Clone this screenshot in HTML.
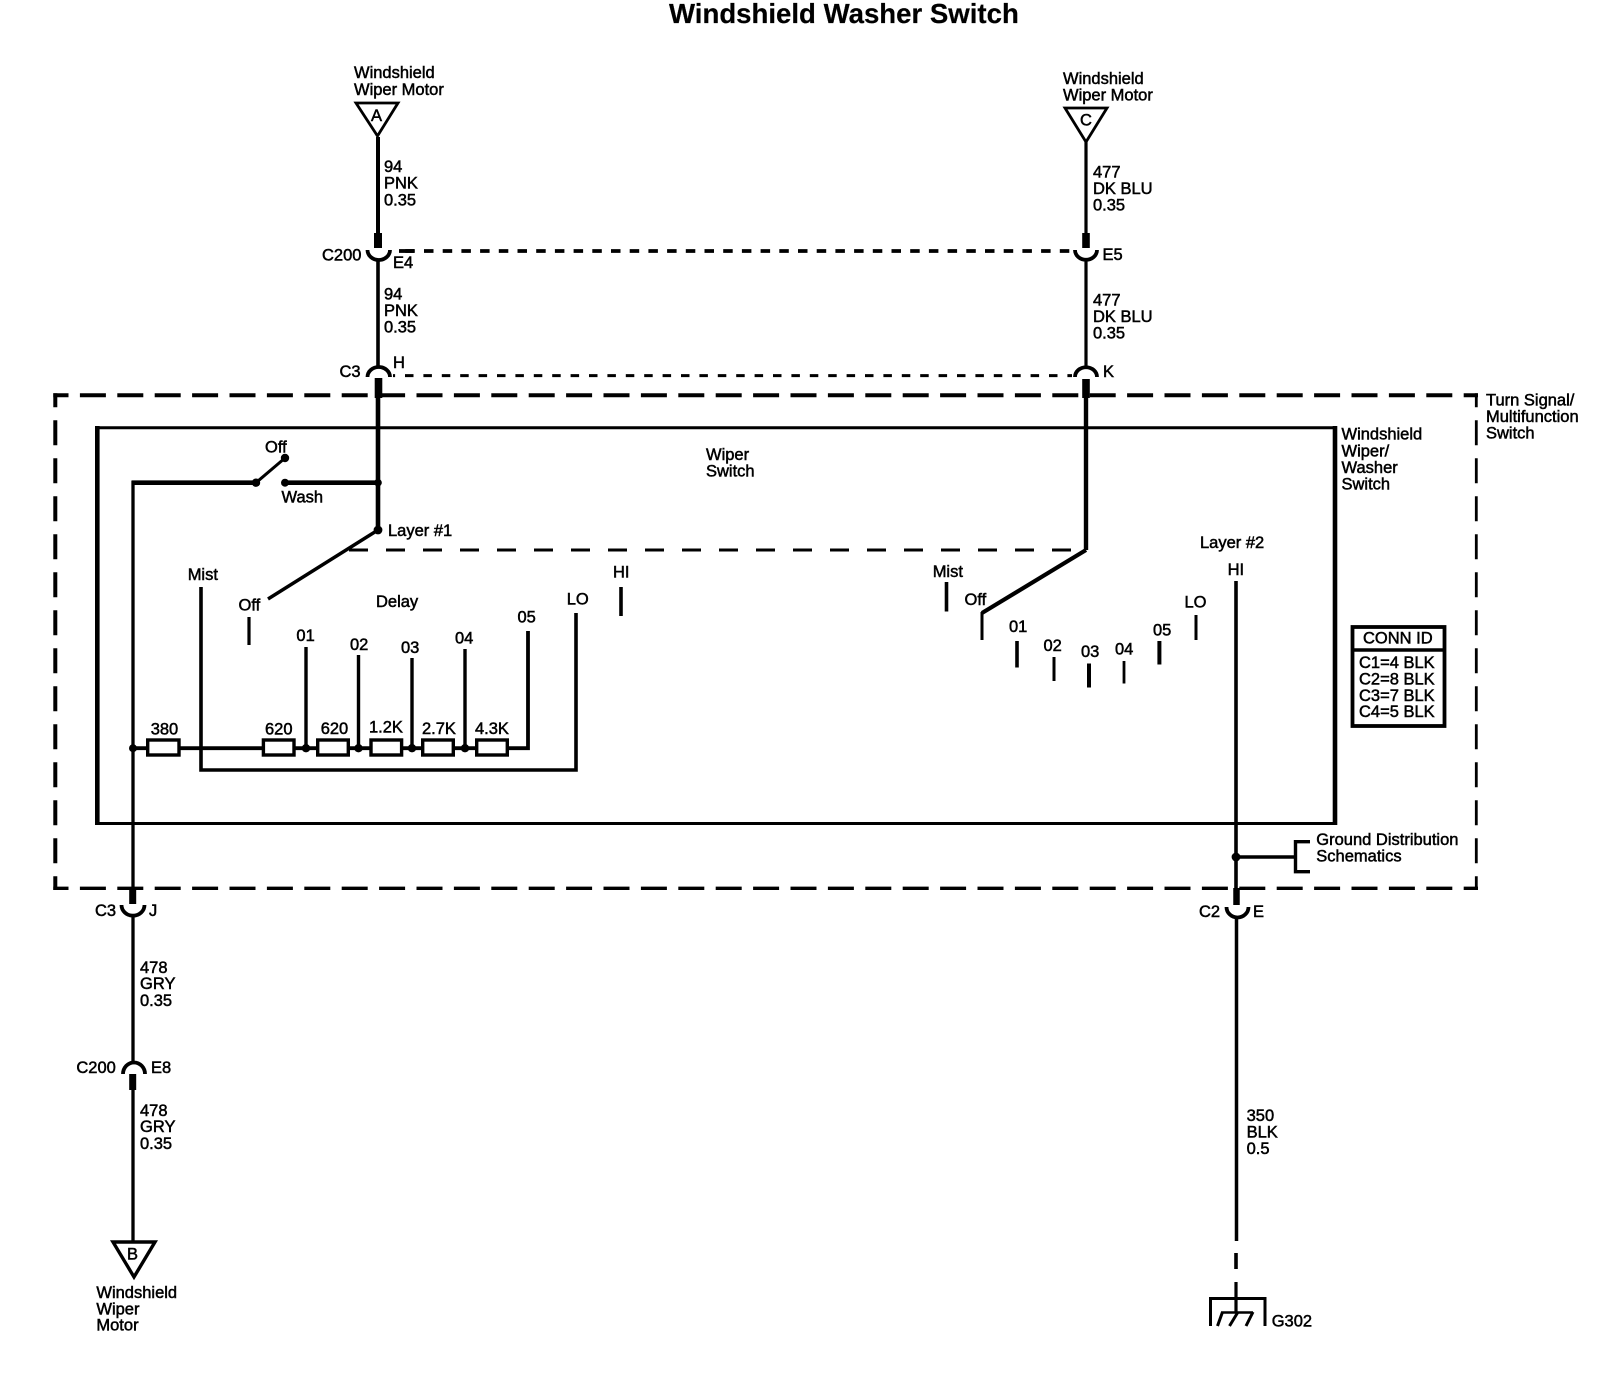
<!DOCTYPE html>
<html><head><meta charset="utf-8"><style>
html,body{margin:0;padding:0;background:#fff}
svg{display:block}
text{font-family:"Liberation Sans",Arial,sans-serif;font-size:16.5px;fill:#000;stroke:#000;stroke-width:.5}
.l{stroke:#000;fill:none}
</style></head><body>
<svg width="1608" height="1392" viewBox="0 0 1608 1392" xmlns="http://www.w3.org/2000/svg">
<rect width="1608" height="1392" fill="#fff"/>
<text x="669" y="23" style="font-size:27.6px;font-weight:bold;stroke-width:.2">Windshield Washer Switch</text>

<g class="l" fill="none" stroke="#000">
<!-- outer dashed box -->
<path d="M53.3 395.3H1478" stroke-width="4" stroke-dasharray="26 11.4" stroke-dashoffset="10.8" fill="none"/>
<path d="M55.3 393.3V890" stroke-width="4" stroke-dasharray="25 13" stroke-dashoffset="11" fill="none"/>
<path d="M1476.3 393.3V890" stroke-width="2.8" stroke-dasharray="25 13" stroke-dashoffset="11" fill="none"/>
<path d="M53.3 888.3H1478" stroke-width="3.3" stroke-dasharray="26 11.4" stroke-dashoffset="10.8" fill="none"/>
<!-- inner box -->
<path d="M97.3 426V825" stroke-width="4.6" fill="none"/>
<path d="M1335 426V825" stroke-width="4.6" fill="none"/>
<path d="M95 427.7H1337" stroke-width="3" fill="none"/>
<path d="M95 823.5H1337" stroke-width="3" fill="none"/>
<!-- dashed links -->
<path d="M399 251H414" stroke-width="3.8" fill="none"/>
<path d="M399 251H1072" stroke-width="3.8" stroke-dasharray="9.5 9.2" stroke-dashoffset="12.4" fill="none"/>
<path d="M393 375.6H1072" stroke-width="3" stroke-dasharray="8.5 9.9" stroke-dashoffset="6.4" fill="none"/>
<path d="M349 550H1086" stroke-width="3" stroke-dasharray="19 18" fill="none"/>

<!-- triangles -->
<path d="M356 103H398L377.5 136Z" stroke-width="2.8" fill="none"/>
<path d="M1065 108H1107L1086 142Z" stroke-width="2.8" fill="none"/>
<path d="M113 1242H155L134 1277Z" stroke-width="3.4" fill="none"/>

<!-- left top wire -->
<path d="M378 137V234" stroke-width="4" fill="none"/>
<path d="M378 233V248" stroke-width="8" fill="none"/>
<path d="M367.5 250A10.7 9.5 0 0 0 390 250" stroke-width="3.8" fill="none"/>
<path d="M378 260V368" stroke-width="3.6" fill="none"/>
<path d="M367.5 377A10.7 9.5 0 0 1 390 377" stroke-width="3.8" fill="none"/>
<path d="M378.5 378V398" stroke-width="7.6" fill="none"/>
<path d="M378 395V530" stroke-width="4.6" fill="none"/>
<path d="M378 530L268 599" stroke-width="3.4" fill="none"/>

<!-- right top wire -->
<path d="M1086 142V234" stroke-width="3.2" fill="none"/>
<path d="M1086 233V248" stroke-width="7.6" fill="none"/>
<path d="M1075 250A10.7 9.5 0 0 0 1097 250" stroke-width="3.8" fill="none"/>
<path d="M1086 260V368" stroke-width="3.2" fill="none"/>
<path d="M1075 377A10.7 9.5 0 0 1 1097 377" stroke-width="3.8" fill="none"/>
<path d="M1086 379V398" stroke-width="7.6" fill="none"/>
<path d="M1086 395V550" stroke-width="4.4" fill="none"/>
<path d="M1086 550L982 613" stroke-width="4.2" fill="none"/>
<path d="M982 612V640" stroke-width="3" fill="none"/>

<!-- washer switch -->
<path d="M131.5 482.7H256" stroke-width="4.6" fill="none"/>
<path d="M256 482.7L285 458" stroke-width="3" fill="none"/>
<path d="M285 482.7H378" stroke-width="4.6" fill="none"/>
<path d="M133 481V889" stroke-width="3.3" fill="none"/>

<!-- layer 1 contacts -->
<path d="M201 587V770H576V613" stroke-width="3.6" fill="none"/>
<path d="M249 617V645" stroke-width="3.2" fill="none"/>
<path d="M621 587V616" stroke-width="3.6" fill="none"/>
<path d="M133 748.2H528V631" stroke-width="3.8" fill="none"/>
<path d="M306 647V748" stroke-width="3.4" fill="none"/>
<path d="M358.5 655V748" stroke-width="3.4" fill="none"/>
<path d="M412 658V748" stroke-width="3.4" fill="none"/>
<path d="M465 649V748" stroke-width="3.4" fill="none"/>

<!-- layer 2 contacts -->
<path d="M946.5 582V611.5" stroke-width="3.6" fill="none"/>
<path d="M1017 641V667.5" stroke-width="3.6" fill="none"/>
<path d="M1054 657V681" stroke-width="3" fill="none"/>
<path d="M1089 663.5V687.5" stroke-width="4" fill="none"/>
<path d="M1124 661V683.5" stroke-width="2.8" fill="none"/>
<path d="M1159.4 641V664.5" stroke-width="4" fill="none"/>
<path d="M1196 615V640" stroke-width="3" fill="none"/>
<path d="M1236 581V890" stroke-width="3.6" fill="none"/>

<!-- bottom left wire -->
<path d="M132.7 889V904" stroke-width="7" fill="none"/>
<path d="M121.5 905A11.3 10.5 0 0 0 144.5 905" stroke-width="3.8" fill="none"/>
<path d="M133 915V1063" stroke-width="3.3" fill="none"/>
<path d="M123 1074A10.5 11 0 0 1 145 1074" stroke-width="3.8" fill="none"/>
<path d="M132.7 1074V1090" stroke-width="7" fill="none"/>
<path d="M133 1090V1242" stroke-width="3.3" fill="none"/>

<!-- bottom right wire -->
<path d="M1236 857H1295" stroke-width="3.6" fill="none"/>
<path d="M1310 841.7H1295.5V871.7H1310" stroke-width="3.4" fill="none"/>
<path d="M1236.5 888V905" stroke-width="6.5" fill="none"/>
<path d="M1226.5 907A11 10.5 0 0 0 1248.5 907" stroke-width="3.8" fill="none"/>
<path d="M1236.5 917V1241" stroke-width="3.5" fill="none"/>
<path d="M1236 1253V1269" stroke-width="3.6" fill="none"/>
<path d="M1236 1282V1312" stroke-width="3.2" fill="none"/>
<path d="M1210.5 1326V1298.5H1265V1326" stroke-width="3" fill="none"/>
<path d="M1221 1312.5H1253" stroke-width="2.6" fill="none"/>
<path d="M1253 1312L1246 1326M1238 1312L1229.5 1326M1222.5 1312L1217.5 1326" stroke-width="3" fill="none"/>

<!-- conn id -->
<rect x="1352.5" y="627" width="92" height="99" stroke-width="3.8" fill="none"/>
<path d="M1351 650H1446" stroke-width="3.6" fill="none"/>
</g>

<!-- resistors -->
<g fill="#fff" stroke="#000" stroke-width="3.4">
<rect x="147.7" y="740" width="31.3" height="15"/>
<rect x="263.4" y="740" width="30.6" height="15"/>
<rect x="317.7" y="740" width="30.6" height="15"/>
<rect x="371" y="740" width="30.6" height="15"/>
<rect x="422.7" y="740" width="30.6" height="15"/>
<rect x="476.7" y="740" width="30.6" height="15"/>
</g>

<!-- nodes -->
<g fill="#000">
<circle cx="378" cy="530" r="4.4"/>
<circle cx="378" cy="482.7" r="3.8"/>
<circle cx="256" cy="482.7" r="4.2"/>
<circle cx="285" cy="458" r="4.2"/>
<circle cx="285" cy="482.7" r="4"/>
<circle cx="133" cy="748.2" r="4"/>
<circle cx="306" cy="748.2" r="4.2"/>
<circle cx="358.5" cy="748.2" r="4.2"/>
<circle cx="412" cy="748.2" r="4.2"/>
<circle cx="465" cy="748.2" r="4.2"/>
<circle cx="1236" cy="857" r="4.4"/>
</g>

<!-- labels -->
<text x="354" y="78">Windshield</text>
<text x="354" y="95">Wiper Motor</text>
<text x="371" y="121">A</text>
<text x="1063" y="84">Windshield</text>
<text x="1063" y="100.5">Wiper Motor</text>
<text x="1080" y="125.5">C</text>

<g transform="translate(0,-.7)">
<text x="384" y="172.5">94</text><text x="384" y="189">PNK</text><text x="384" y="206">0.35</text>
<text x="384" y="300.4">94</text><text x="384" y="316.7">PNK</text><text x="384" y="333">0.35</text>
<text x="1093" y="178">477</text><text x="1093" y="194.7">DK BLU</text><text x="1093" y="211">0.35</text>
<text x="1093" y="306">477</text><text x="1093" y="322.7">DK BLU</text><text x="1093" y="339">0.35</text>
</g>
<text x="322" y="260.5">C200</text><text x="393" y="268">E4</text>
<text x="339.5" y="377.2">C3</text><text x="393" y="368">H</text>
<text x="1102.5" y="260">E5</text><text x="1103" y="377.2">K</text>

<text x="1486" y="405.5">Turn Signal/</text><text x="1486" y="422">Multifunction</text><text x="1486" y="438.3">Switch</text>
<text x="1341.5" y="439.3">Windshield</text><text x="1341.5" y="456.5">Wiper/</text><text x="1341.5" y="473">Washer</text><text x="1341.5" y="489.3">Switch</text>
<text x="706" y="460">Wiper</text><text x="706" y="476.5">Switch</text>

<text x="265" y="452.5">Off</text><text x="281.5" y="502.5">Wash</text>
<text x="388" y="536">Layer #1</text>
<g transform="translate(0,-1)">
<text x="187.7" y="581">Mist</text><text x="238.5" y="611.6">Off</text>
<text x="376" y="608">Delay</text>
<text x="296.4" y="642">01</text><text x="350" y="651">02</text><text x="401" y="654">03</text><text x="455" y="644.5">04</text><text x="517.5" y="623.5">05</text>
<text x="566.7" y="605.7">LO</text><text x="613" y="578.5">HI</text>
<text x="150.7" y="735.5">380</text><text x="265" y="735.5">620</text><text x="320.7" y="735">620</text>
<text x="369" y="733.7">1.2K</text><text x="422" y="735">2.7K</text><text x="475" y="735">4.3K</text>

<text x="932.7" y="578">Mist</text><text x="964.5" y="606">Off</text>
<text x="1009" y="633">01</text><text x="1043.5" y="652">02</text><text x="1081" y="658">03</text><text x="1115" y="655.5">04</text><text x="1153" y="636.5">05</text>
<text x="1184.5" y="608.5">LO</text><text x="1227.6" y="576">HI</text>
<text x="1200" y="549">Layer #2</text>

<text x="1363" y="644.3">CONN ID</text>
<text x="1359" y="669">C1=4 BLK</text><text x="1359" y="685.7">C2=8 BLK</text><text x="1359" y="702">C3=7 BLK</text><text x="1359" y="718">C4=5 BLK</text>

<text x="1316.3" y="846">Ground Distribution</text><text x="1316.3" y="862.5">Schematics</text>

<text x="95" y="917">C3</text><text x="149" y="917">J</text>
<text x="140" y="974">478</text><text x="140" y="990">GRY</text><text x="140" y="1007">0.35</text>
<text x="76.4" y="1074">C200</text><text x="151" y="1074">E8</text>
<text x="140" y="1117">478</text><text x="140" y="1133">GRY</text><text x="140" y="1150">0.35</text>
<text x="127" y="1260.4">B</text>
<text x="96.4" y="1299">Windshield</text><text x="96.4" y="1315.5">Wiper</text><text x="96.4" y="1331.5">Motor</text>

<text x="1199" y="918">C2</text><text x="1253" y="918">E</text>
<text x="1246.6" y="1122">350</text><text x="1246.6" y="1138.5">BLK</text><text x="1246.6" y="1155">0.5</text>
<text x="1271.7" y="1327.5">G302</text>
</g>
</svg>
</body></html>
